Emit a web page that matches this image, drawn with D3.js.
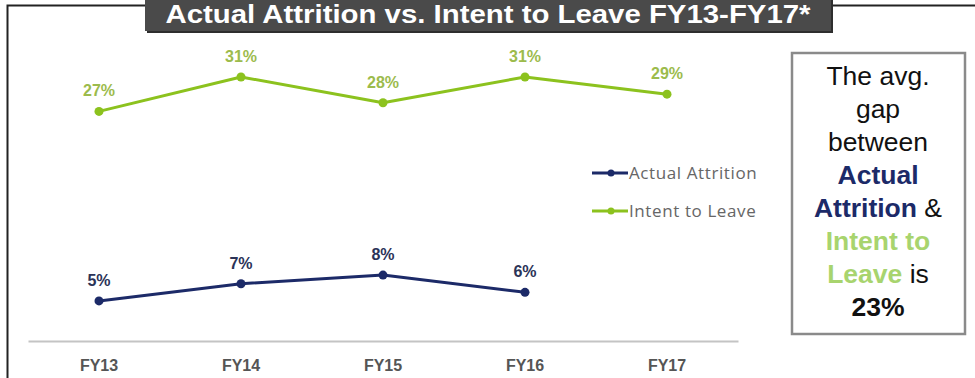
<!DOCTYPE html>
<html>
<head>
<meta charset="utf-8">
<script src="https://cdn.jsdelivr.net/npm/d3@7"></script>
<style>
  html, body { margin: 0; padding: 0; background: #fff; }
  svg { display: block; }
</style>
</head>
<body>
<svg id="chart" width="975" height="378"></svg>
<script>
// Fiscal years and the two series (percent)
const categories = ["FY13", "FY14", "FY15", "FY16", "FY17"];
const actualAttrition = [5, 7, 8, 6, null];
const intentToLeave = [27, 31, 28, 31, 29];
const seriesNames = ["Actual Attrition", "Intent to Leave"];
const avgGap = 23;

const colors = {
  attrition: "#1c2a68",
  attritionLabel: "#2b3357",
  intent: "#8cc21e",
  intentLabel: "#9cbb4c",
  intentText: "#a8d46e"
};

const svg = d3.select("#chart");
const W = 975, H = 378;

// Outer frame (open at the right)
svg.append("path")
  .attr("d", `M${W} 5.5 H7.5 V${H}`)
  .attr("fill", "none")
  .attr("stroke", "#222")
  .attr("stroke-width", 2);

// Scales
const x = d3.scaleBand().domain(categories).range([28, 738]);
const y = d3.scaleLinear().domain([0, 35]).range([344, 42.5]);
const cx = d => x(d) + x.bandwidth() / 2;

// Category axis
const axis = d3.axisBottom(x).tickSize(0).tickPadding(0);
const gAxis = svg.append("g").attr("transform", "translate(0,341)").call(axis);
gAxis.select(".domain").attr("stroke", "#c4c4c4").attr("stroke-width", 2);
gAxis.selectAll("text")
  .attr("dy", null)
  .attr("y", 30)
  .attr("fill", "#555")
  .style("font", "bold 16px Arial, 'Liberation Sans', sans-serif");

function drawSeries(values, lineColor, labelColor) {
  const pts = categories.map((c, i) => ({ c, v: values[i] })).filter(d => d.v != null);
  const line = d3.line().x(d => cx(d.c)).y(d => y(d.v));
  svg.append("path").datum(pts)
    .attr("d", line)
    .attr("fill", "none")
    .attr("stroke", lineColor)
    .attr("stroke-width", 3)
    .attr("stroke-linejoin", "round");
  svg.append("g").selectAll("circle").data(pts).join("circle")
    .attr("cx", d => cx(d.c)).attr("cy", d => y(d.v)).attr("r", 4.5)
    .attr("fill", lineColor);
  svg.append("g").selectAll("text").data(pts).join("text")
    .attr("x", d => cx(d.c)).attr("y", d => y(d.v) - 15)
    .attr("text-anchor", "middle")
    .attr("fill", labelColor)
    .style("font", "bold 16px Arial, 'Liberation Sans', sans-serif")
    .text(d => d.v + "%");
}

drawSeries(intentToLeave, colors.intent, colors.intentLabel);
drawSeries(actualAttrition, colors.attrition, colors.attritionLabel);

// Legend
const legend = svg.append("g");
[[seriesNames[0], colors.attrition, 173], [seriesNames[1], colors.intent, 211]].forEach(([name, col, ly]) => {
  legend.append("line").attr("x1", 592).attr("x2", 628).attr("y1", ly).attr("y2", ly)
    .attr("stroke", col).attr("stroke-width", 3);
  legend.append("circle").attr("cx", 611).attr("cy", ly).attr("r", 3.5).attr("fill", col);
  legend.append("text").attr("x", 629).attr("y", ly + 6)
    .attr("fill", "#666")
    .style("font", "17px 'Open Sans', sans-serif")
    .style("letter-spacing", "0.6px")
    .text(name);
});

// Summary box
svg.append("rect")
  .attr("x", 792).attr("y", 53).attr("width", 173).attr("height", 281)
  .attr("fill", "#fff").attr("stroke", "#8a8a8a").attr("stroke-width", 2.5);

const boxLines = [
  [["The avg.", "normal", "#111"]],
  [["gap", "normal", "#111"]],
  [["between", "normal", "#111"]],
  [["Actual", "bold", colors.attrition]],
  [["Attrition", "bold", colors.attrition], [" &", "normal", "#111"]],
  [["Intent to", "bold", colors.intentText]],
  [["Leave", "bold", colors.intentText], [" is", "normal", "#111"]],
  [[avgGap + "%", "bold", "#111"]]
];
boxLines.forEach((parts, i) => {
  const t = svg.append("text")
    .attr("x", 878).attr("y", 85 + i * 33)
    .attr("text-anchor", "middle")
    .style("font-family", "Arial, 'Liberation Sans', sans-serif")
    .style("font-size", "26.5px");
  parts.forEach(([s, w, c]) => {
    t.append("tspan").attr("font-weight", w).attr("fill", c).text(s);
  });
});

// Title banner
const title = svg.append("g");
title.append("rect").attr("x", 147).attr("y", 0).attr("width", 686).attr("height", 33).attr("fill", "#2e2e2e");
title.append("rect").attr("x", 145).attr("y", -2).attr("width", 686).attr("height", 33).attr("fill", "#4a4a4a");
title.append("text")
  .attr("x", 488).attr("y", 23)
  .attr("text-anchor", "middle")
  .attr("fill", "#fff")
  .attr("textLength", 645)
  .attr("lengthAdjust", "spacingAndGlyphs")
  .style("font", "bold 25px Arial, 'Liberation Sans', sans-serif")
  .text("Actual  Attrition vs. Intent to Leave FY13-FY17*");
</script>
</body>
</html>
